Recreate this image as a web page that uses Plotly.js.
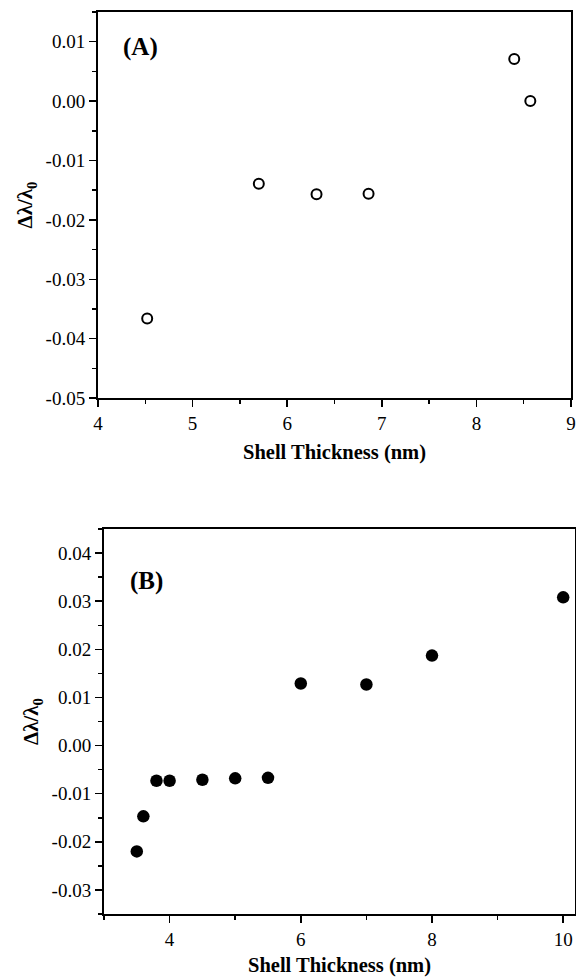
<!DOCTYPE html>
<html>
<head>
<meta charset="utf-8">
<script src="https://cdn.plot.ly/plotly-3.0.1.min.js"></script>
<style>html,body{margin:0;padding:0;background:#fff;}#chart{width:576px;height:977px;}</style>
</head>
<body>
<div id="chart"></div>
<script>
// Panel A: open circles
const shellA = [4.52, 5.70, 6.31, 6.86, 8.40, 8.57];
const shiftA = [-0.0366, -0.0139, -0.0157, -0.0156, 0.0071, 0.0000];
// Panel B: filled circles
const shellB = [3.5, 3.6, 3.8, 4.0, 4.5, 5.0, 5.5, 6.0, 7.0, 8.0, 10.0];
const shiftB = [-0.0220, -0.0147, -0.0073, -0.0073, -0.0071, -0.0068, -0.0067, 0.0129, 0.0127, 0.0187, 0.0308];

// Tick labels
const xTicksA = [4, 5, 6, 7, 8, 9];
const yTickValsA = [-0.05, -0.04, -0.03, -0.02, -0.01, 0.00, 0.01];
const yTickTextA = ['-0.05', '-0.04', '-0.03', '-0.02', '-0.01', '0.00', '0.01'];
const xTicksB = [4, 6, 8, 10];
const yTickValsB = [-0.03, -0.02, -0.01, 0.00, 0.01, 0.02, 0.03, 0.04];
const yTickTextB = ['-0.03', '-0.02', '-0.01', '0.00', '0.01', '0.02', '0.03', '0.04'];

const xTitle = 'Shell Thickness (nm)';
const yTitle = 'Δλ/λ<sub>0</sub>';
const panelLabels = ['(A)', '(B)'];

const font = "Liberation Serif";

const traces = [
  {x: shellA, y: shiftA, xaxis: 'x', yaxis: 'y', type: 'scatter', mode: 'markers',
   marker: {symbol: 'circle-open', size: 10, color: '#000', line: {width: 2, color: '#000'}},
   showlegend: false, hoverinfo: 'x+y'},
  {x: shellB, y: shiftB, xaxis: 'x2', yaxis: 'y2', type: 'scatter', mode: 'markers',
   marker: {symbol: 'circle', size: 12.5, color: '#000', line: {width: 0}},
   showlegend: false, hoverinfo: 'x+y'}
];

function axisBase(titleText, titleSize, standoff) {
  return {
    showline: true, linecolor: '#000', linewidth: 2, mirror: true,
    ticks: 'outside', ticklen: 7, tickwidth: 1.5, tickcolor: '#000',
    showgrid: false, zeroline: false,
    tickfont: {family: font, size: 19, color: '#000'},
    title: {text: '<b>' + titleText + '</b>', standoff: standoff,
            font: {family: font, size: titleSize, color: '#000'}}
  };
}

const xa = Object.assign(axisBase(xTitle, 20.5, 12), {
  domain: [0, 473/477], range: [4, 9], anchor: 'y', tickmode: 'array', tickvals: xTicksA,
  minor: {ticks: 'outside', ticklen: 4, tickwidth: 1.5, tickcolor: '#000', dtick: 0.5, showgrid: false}
});

const ya = Object.assign(axisBase(yTitle, 21, 7), {
  domain: [0.572, 1], range: [-0.05, 0.015], anchor: 'x', tickmode: 'array',
  tickvals: yTickValsA, ticktext: yTickTextA,
  minor: {ticks: 'outside', ticklen: 4, tickwidth: 1.5, tickcolor: '#000', tick0: 0, dtick: 0.005, showgrid: false}
});

const xb = Object.assign(axisBase(xTitle, 20.5, 12), {
  domain: [6/477, 1], range: [3, 10.18], anchor: 'y2', tickmode: 'array', tickvals: xTicksB,
  minor: {ticks: 'outside', ticklen: 4, tickwidth: 1.5, tickcolor: '#000', tick0: 3, dtick: 1, showgrid: false}
});

const yb = Object.assign(axisBase(yTitle, 21, 7), {
  domain: [0, 0.4268], range: [-0.035, 0.045], anchor: 'x2', tickmode: 'array',
  tickvals: yTickValsB, ticktext: yTickTextB,
  minor: {ticks: 'outside', ticklen: 4, tickwidth: 1.5, tickcolor: '#000', tick0: 0, dtick: 0.005, showgrid: false}
});

const layout = {
  width: 576, height: 977,
  margin: {l: 98, r: 1, t: 12, b: 63},
  paper_bgcolor: '#fff', plot_bgcolor: '#fff',
  font: {family: font, color: '#000'},
  xaxis: xa, yaxis: ya, xaxis2: xb, yaxis2: yb,
  annotations: [
    {text: '<b>' + panelLabels[0] + '</b>', xref: 'x domain', yref: 'y domain', x: 0.09, y: 0.91,
     xanchor: 'center', yanchor: 'middle', showarrow: false, font: {family: font, size: 25, color: '#000'}},
    {text: '<b>' + panelLabels[1] + '</b>', xref: 'x2 domain', yref: 'y2 domain', x: 0.09, y: 0.865,
     xanchor: 'center', yanchor: 'middle', showarrow: false, font: {family: font, size: 25, color: '#000'}}
  ]
};

Plotly.newPlot('chart', traces, layout, {displayModeBar: false, staticPlot: true});
</script>
</body>
</html>
